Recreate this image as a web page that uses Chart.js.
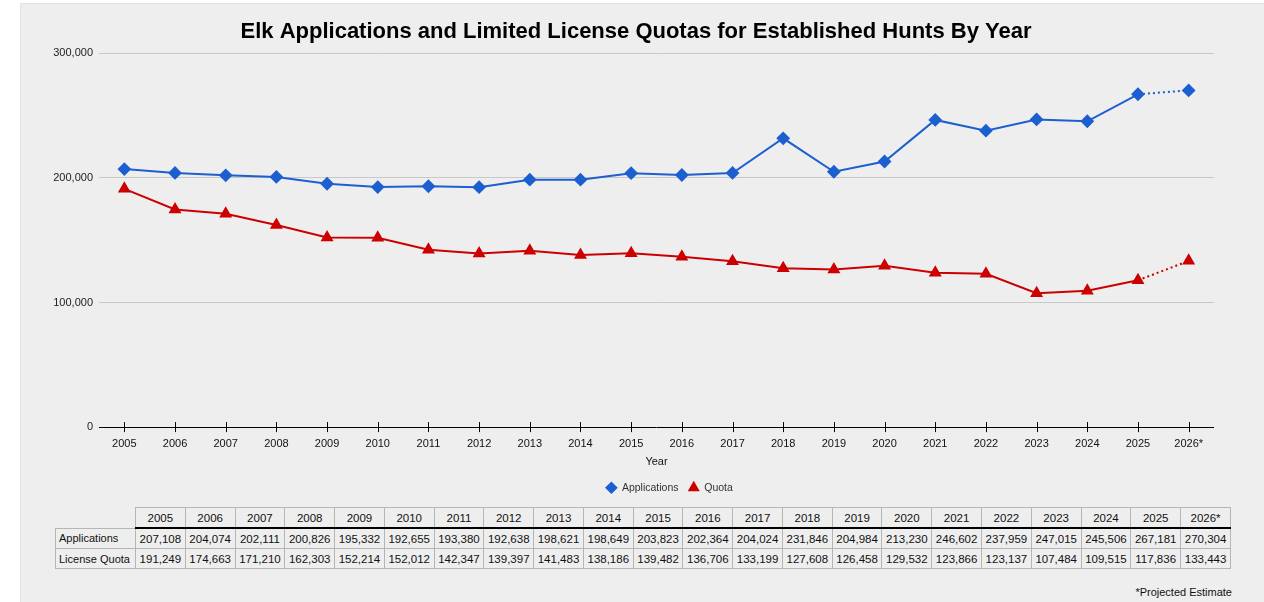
<!DOCTYPE html>
<html>
<head>
<meta charset="utf-8">
<script src="https://cdn.jsdelivr.net/npm/chart.js@4"></script>
<style>
  html, body { margin: 0; padding: 0; background: #fff; }
  body { width: 1264px; height: 602px; position: relative; overflow: hidden; font-family: "Liberation Sans", Arial, sans-serif; }
  #panel { position: absolute; left: 20px; top: 3px; right: 0; bottom: 0; background: #eeeeee; border-left: 1px solid #e2e2e2; border-top: 1px solid #e2e2e2; }
  #chartBox { position: absolute; left: 20px; top: 3px; width: 1232px; height: 500px; }
  #dataTable { position: absolute; left: 55px; top: 507px; width: 1176px; border-collapse: collapse; table-layout: fixed; font-size: 11.5px; color: #111; }
  #dataTable td, #dataTable th { border: 1px solid #b5b5b5; height: 19px; padding: 0; text-align: center; font-weight: normal; white-space: nowrap; }
  #dataTable th { border-bottom: 2px solid #000; }
  #dataTable th.blank { border: none; }
  #dataTable td.lbl { text-align: left; padding-left: 3px; font-size: 11px; }
  #note { position: absolute; right: 32px; top: 586px; font-size: 11px; color: #111; }
</style>
</head>
<body>
<div id="panel"></div>
<div id="chartBox"><canvas id="elkChart"></canvas></div>
<table id="dataTable"></table>
<div id="note">*Projected Estimate</div>
<script>
// Data
const years = ['2005', '2006', '2007', '2008', '2009', '2010', '2011', '2012', '2013', '2014', '2015',
               '2016', '2017', '2018', '2019', '2020', '2021', '2022', '2023', '2024', '2025', '2026*'];
const applications = [207108, 204074, 202111, 200826, 195332, 192655, 193380, 192638, 198621, 198649, 203823,
                      202364, 204024, 231846, 204984, 213230, 246602, 237959, 247015, 245506, 267181, 270304];
const quota = [191249, 174663, 171210, 162303, 152214, 152012, 142347, 139397, 141483, 138186, 139482,
               136706, 133199, 127608, 126458, 129532, 123866, 123137, 107484, 109515, 117836, 133443];
const yTicks = [0, 100000, 200000, 300000];

// Colors
const blue = '#1c5fd0';
const red = '#cc0000';
const font = "'Liberation Sans', Arial, sans-serif";

// last segment (projection) is dotted
const projected = ctx => ctx.p1DataIndex === years.length - 1 ? [2, 3] : undefined;

// tick marks crossing the zero line
const crossTicks = {
    id: 'crossTicks',
    afterLayout(chart) {
        // legend sits a bit right of the plot centre in the original
        chart.legend.left += 13;
        chart.legend.right += 13;
    },
    beforeDatasetsDraw(chart) {
        const xs = chart.scales.x;
        const y0 = chart.scales.y.getPixelForValue(0);
        const ctx = chart.ctx;
        ctx.save();
        ctx.strokeStyle = '#000';
        ctx.lineWidth = 1;
        ctx.beginPath();
        xs.ticks.forEach((t, i) => {
            const x = Math.round(xs.getPixelForTick(i)) + 0.5;
            ctx.moveTo(x, y0 - 5);
            ctx.lineTo(x, y0 + 5);
        });
        ctx.stroke();
        ctx.restore();
    }
};

new Chart(document.getElementById('elkChart'), {
    type: 'line',
    data: {
        labels: years,
        datasets: [{
            label: 'Applications',
            data: applications,
            borderColor: blue,
            backgroundColor: blue,
            borderWidth: 2,
            pointStyle: 'rectRot',
            pointRadius: 5.5,
            segment: { borderDash: projected }
        }, {
            label: 'Quota',
            data: quota,
            borderColor: red,
            backgroundColor: red,
            borderWidth: 2,
            pointStyle: 'triangle',
            pointRadius: 5.5,
            segment: { borderDash: projected }
        }]
    },
    options: {
        responsive: true,
        maintainAspectRatio: false,
        animation: false,
        layout: { padding: 0 },
        plugins: {
            title: {
                display: true,
                text: 'Elk Applications and Limited License Quotas for Established Hunts By Year',
                color: '#000',
                font: { family: font, size: 22, weight: 'bold' },
                padding: { top: 16, bottom: 8 }
            },
            legend: {
                position: 'bottom',
                fullSize: false,
                labels: {
                    usePointStyle: true,
                    boxHeight: 7,
                    color: '#333',
                    font: { family: font, size: 10.5 },
                    padding: 10
                }
            },
            tooltip: { enabled: false }
        },
        scales: {
            x: {
                offset: true,
                grid: { display: false, drawTicks: false },
                border: { display: false },
                ticks: { color: '#111', font: { family: font, size: 11 }, padding: 10, maxRotation: 0, autoSkip: false },
                title: { display: true, text: 'Year', color: '#111', font: { family: font, size: 11 }, padding: { top: -5, bottom: 4 } }
            },
            y: {
                min: 0,
                max: 300000,
                afterBuildTicks: s => { s.ticks = yTicks.map(v => ({ value: v })); },
                afterFit: s => { s.width = 79; },
                grid: {
                    drawTicks: false,
                    color: c => c.tick && c.tick.value === 0 ? '#000' : '#c8c8c8'
                },
                border: { display: false },
                ticks: { color: '#222', font: { family: font, size: 11 }, padding: 6 }
            },
            y2: {
                position: 'right',
                display: true,
                grid: { display: false },
                border: { display: false },
                ticks: { display: false },
                afterFit: s => { s.width = 38; }
            }
        }
    },
    plugins: [crossTicks]
});

// Data table under the chart
const table = document.getElementById('dataTable');
const fmt = v => v.toLocaleString('en-US');
let html = '<colgroup><col style="width:80px">' + years.map(() => '<col>').join('') + '</colgroup>';
html += '<tr><th class="blank"></th>' + years.map(y => `<th>${y}</th>`).join('') + '</tr>';
html += '<tr><td class="lbl">Applications</td>' + applications.map(v => `<td>${fmt(v)}</td>`).join('') + '</tr>';
html += '<tr><td class="lbl">License Quota</td>' + quota.map(v => `<td>${fmt(v)}</td>`).join('') + '</tr>';
table.innerHTML = html;
</script>
</body>
</html>
